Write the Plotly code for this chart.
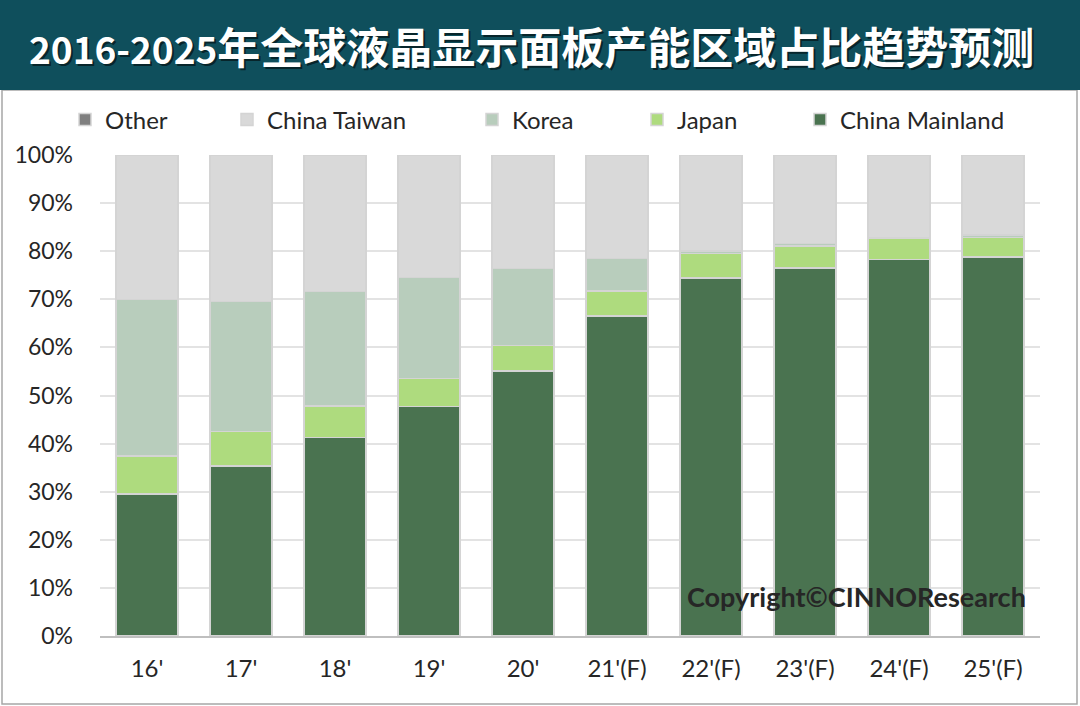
import plotly.graph_objects as go

# data (percent of global LCD panel capacity)
years = ["16'", "17'", "18'", "19'", "20'", "21'(F)", "22'(F)", "23'(F)", "24'(F)", "25'(F)"]
china_mainland = [29.5, 35.3, 41.3, 47.7, 55.1, 66.5, 74.4, 76.5, 78.3, 78.8]
japan = [7.9, 7.2, 6.5, 5.8, 5.3, 5.2, 5.1, 4.6, 4.3, 4.1]
korea = [32.6, 27.0, 23.8, 21.0, 16.0, 6.8, 0.5, 0.5, 0.1, 0.5]
china_taiwan = [30.0, 30.5, 28.4, 25.5, 23.6, 21.5, 20.0, 18.4, 17.3, 16.6]
other = [0, 0, 0, 0, 0, 0, 0, 0, 0, 0]

y_ticks = list(range(0, 101, 10))
y_labels = [f"{v}%" for v in y_ticks]

title_year = "2016-2025"
title_rest = "年全球液晶显示面板产能区域占比趋势预测"
copyright_text = "Copyright©CINNOResearch"

W, H = 1080, 706
L, R, T, B = 100, 40, 155, 70
PW, PH = W - L - R, H - T - B


def px_x(x):
    return (x - L) / PW


def px_y(y):
    return (H - B - y) / PH


series = [
    ("China Mainland", china_mainland, "#4a7350", "legend5", 818),
    ("Japan", japan, "#aedb7e", "legend4", 655),
    ("Korea", korea, "#b8cdbc", "legend3", 490),
    ("China Taiwan", china_taiwan, "#d9d9d9", "legend2", 245),
    ("Other", other, "#7f7f7f", "legend", 83),
]

fig = go.Figure()
for name, vals, color, leg, _ in series:
    fig.add_trace(go.Bar(
        x=years, y=vals, name=name, legend=leg,
        marker=dict(color=color, line=dict(color="#d4d4d4", width=1.5)),
    ))

font_main = "Lato, 'Noto Sans', sans-serif"
legend_cfg = {}
for name, vals, color, leg, xpos in series:
    legend_cfg[leg] = dict(
        x=px_x(xpos - 18), y=px_y(120), xanchor="left", yanchor="middle",
        orientation="h", bgcolor="rgba(0,0,0,0)",
        font=dict(family=font_main, size=24, color="#262626"),
        itemwidth=30,
    )

fig.update_layout(
    width=W, height=H, autosize=False,
    margin=dict(l=L, r=R, t=T, b=B),
    barmode="stack", bargap=0.34,
    paper_bgcolor="white", plot_bgcolor="white",
    showlegend=True,
    font=dict(family=font_main, size=21, color="#262626"),
    xaxis=dict(
        type="category", showgrid=False, showline=True,
        linecolor="#bfbfbf", linewidth=1.5, ticks="",
        tickfont=dict(family=font_main, size=24, color="#262626"),
        ticklabelstandoff=10,
    ),
    yaxis=dict(
        range=[0, 100], tickvals=y_ticks, ticktext=y_labels,
        showgrid=True, gridcolor="#e3e3e3", gridwidth=1.5,
        zeroline=False, ticks="",
        tickfont=dict(family=font_main, size=23, color="#262626"),
        ticklabelstandoff=26,
    ),
    **legend_cfg,
)

# header band and outer frame
fig.add_shape(type="rect", xref="paper", yref="paper",
              x0=px_x(2), x1=px_x(W - 3), y0=px_y(H - 2), y1=px_y(90),
              line=dict(color="#a6a6a6", width=1.5), fillcolor="rgba(0,0,0,0)", layer="below")
fig.add_shape(type="rect", xref="paper", yref="paper",
              x0=px_x(0), x1=px_x(W), y0=px_y(90), y1=px_y(0),
              line=dict(width=0), fillcolor="#0f4f5c", layer="below")

# title with soft shadow; year part is set a bit smaller than the CJK part
title_html = f"<span style='font-size:37px'>{title_year}</span>{title_rest}"
fig.add_annotation(text=title_html, xref="paper", yref="paper",
                   x=px_x(533), y=px_y(47), xanchor="center", yanchor="middle",
                   showarrow=False,
                   font=dict(family="Noto Sans CJK SC", size=43, color="rgba(0,0,0,0.55)", weight="bold"))
fig.add_annotation(text=title_html, xref="paper", yref="paper",
                   x=px_x(531), y=px_y(45), xanchor="center", yanchor="middle",
                   showarrow=False,
                   font=dict(family="Noto Sans CJK SC", size=43, color="white", weight="bold"))

fig.add_annotation(text=copyright_text, xref="paper", yref="paper",
                   x=px_x(1028), y=px_y(596), xanchor="right", yanchor="middle",
                   showarrow=False,
                   font=dict(family=font_main, size=27, color="#262626", weight="bold"))

fig.write_html("out.html", config={"displayModeBar": False},
               post_script="document.body.style.margin='0';")
